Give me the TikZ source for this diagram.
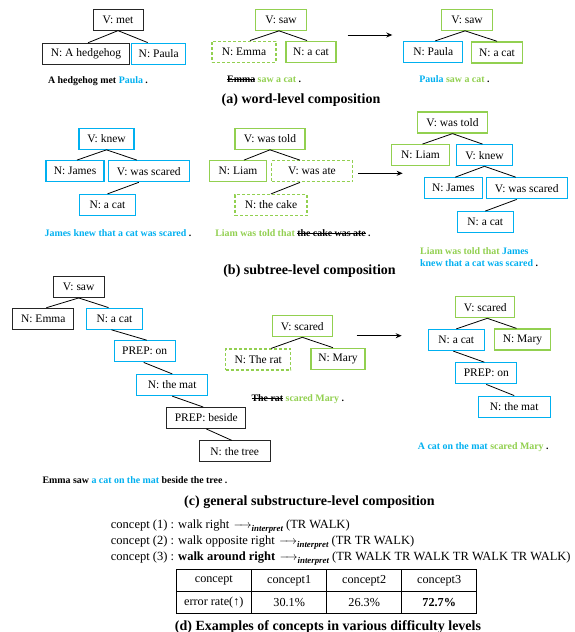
\documentclass[tikz,border=0pt]{standalone}
\usepackage{fontspec}
\setmainfont{Liberation Serif}
\usetikzlibrary{arrows.meta}
\definecolor{cb}{RGB}{0,176,240}
\definecolor{cg}{RGB}{146,208,80}
\newcommand\strk[1]{\sbox0{#1}\rlap{\rule[0.26em]{\wd0}{0.7pt}}\usebox0}
\newcommand\nodefont{\fontsize{11.5}{13}\selectfont}
\newcommand\interp{$\mkern2mu{-}\mkern-5mu{\rightarrow}$\raisebox{-2.8pt}{\fontsize{8.8}{9}\selectfont\bfseries\itshape interpret}}
\begin{document}
\begin{tikzpicture}[x=1pt,y=-1pt,
  bx/.style={draw, minimum height=21pt, inner sep=0pt, font=\nodefont, line width=0.9pt},
  w/.style={minimum width=#1pt},
  bk/.style={bx, draw=black!85},
  bl/.style={bx, draw=cb, line width=1.25pt},
  gr/.style={bx, draw=cg, line width=1.25pt},
  gd/.style={gr, dash pattern=on 3pt off 2pt},
  ed/.style={line width=0.8pt},
  sent/.style={font=\fontsize{9.9}{11}\selectfont\bfseries, inner sep=0pt},
  capt/.style={font=\fontsize{14}{16}\selectfont\bfseries, inner sep=0pt},
  dtext/.style={font=\fontsize{12.5}{14}\selectfont, inner sep=0pt, anchor=west},
  tcell/.style={font=\fontsize{12.2}{14}\selectfont, inner sep=0pt},
  arr/.style={line width=1pt, -{Stealth[length=6pt,width=5pt]}}
]
\fill[white] (0,0) rectangle (575,632);
\useasboundingbox (0,0) rectangle (575,632);

% ---------- (a) ----------
\node[bk,w=50] (a1) at (118,19.7) {V: met};
\node[bk,w=87] (a2) at (86,53.7) {N: A hedgehog};
\node[bl,w=54] (a3) at (158.7,53.7) {N: Paula};
\draw[ed] (a1.south) -- ([xshift=2pt]a2.north);
\draw[ed] (a1.south) -- ([xshift=-11pt]a3.north);
\node[sent] (as1) at (98,80.7) {A hedgehog met \textcolor{cb}{Paula} .};

\node[gr,w=51] (b1) at (281,19.7) {V: saw};
\node[gd,w=64] (b2) at (244,51.7) {N: Emma};
\node[gr,w=50] (b3) at (311,51.7) {N: a cat};
\draw[ed] ([xshift=-2pt]b1.south) -- ([xshift=6pt]b2.north);
\draw[ed] ([xshift=-2pt]b1.south) -- ([xshift=-4pt]b3.north);
\node[sent] (as2) at (264.2,79.3) {\strk{Emma} \textcolor{cg}{saw a cat} .};

\coordinate (aa1) at (347.7,35);
\coordinate (aa2) at (392.3,35);
\draw[arr] (aa1) -- (aa2);

\node[gr,w=51] (c1) at (467,19.7) {V: saw};
\node[bl,w=59] (c2) at (433.3,52) {N: Paula};
\node[gr,w=51] (c3) at (497,52.4) {N: a cat};
\draw[ed] ([xshift=-2pt]c1.south) -- ([xshift=2pt]c2.north);
\draw[ed] ([xshift=-2pt]c1.south) -- (c3.north);
\node[sent] (as3) at (454.5,79.3) {\textcolor{cb}{Paula} \textcolor{cg}{saw a cat} .};

\node[capt] (capa) at (301,100) {(a) word-level composition};

% ---------- (b) ----------
\node[bl,w=55] (d1) at (106.5,138.7) {V: knew};
\node[bl,w=58] (d2) at (75,171.2) {N: James};
\node[bl,w=81] (d3) at (148.8,171.2) {V: was scared};
\node[bl,w=56] (d4) at (107.5,205) {N: a cat};
\draw[ed] (d1.south) -- ([xshift=2pt]d2.north);
\draw[ed] (d1.south) -- ([xshift=-12pt]d3.north);
\draw[ed] ([xshift=-10pt]d3.south) -- (d4.north);
\node[sent] (bs1) at (118,232.7) {\textcolor{cb}{James knew that a cat was scared} .};

\node[gr,w=70] (e1) at (270,138.7) {V: was told};
\node[gr,w=57] (e2) at (238,171.2) {N: Liam};
\node[gd,w=81] (e3) at (312,171.3) {V: was ate};
\node[gd,w=72] (e4) at (271,205) {N: the cake};
\draw[ed] (e1.south) -- ([xshift=6pt]e2.north);
\draw[ed] (e1.south) -- ([xshift=-12pt]e3.north);
\draw[ed] ([xshift=-12pt]e3.south) -- (e4.north);
\node[sent] (bs2) at (293,232.7) {\textcolor{cg}{Liam was told that} \strk{the cake was ate} .};

\coordinate (ba1) at (358.3,173.3);
\coordinate (ba2) at (402.7,173.3);
\draw[arr] (ba1) -- (ba2);

\node[gr,w=70] (f1) at (452.5,122.5) {V: was told};
\node[gr,w=58] (f2) at (420.5,155.2) {N: Liam};
\node[bl,w=56] (f3) at (484.5,155.2) {V: knew};
\node[bl,w=58] (f4) at (453.3,188.3) {N: James};
\node[bl,w=81] (f5) at (526.7,188.3) {V: was scared};
\node[bl,w=56] (f6) at (485.3,222.2) {N: a cat};
\draw[ed] (f1.south) -- ([xshift=2pt]f2.north);
\draw[ed] (f1.south) -- ([xshift=-2pt]f3.north);
\draw[ed] (f3.south) -- ([xshift=2pt]f4.north);
\draw[ed] (f3.south) -- ([xshift=-11pt]f5.north);
\draw[ed] ([xshift=-10pt]f5.south) -- (f6.north);
\node[sent, anchor=west] (bs3) at (420,251) {\textcolor{cg}{Liam was told that} \textcolor{cb}{James}};
\node[sent, anchor=west] (bs4) at (420,263.3) {\textcolor{cb}{knew that a cat was scared} .};

\node[capt] (capb) at (309.5,271) {(b) subtree-level composition};

% ---------- (c) ----------
\node[bk,w=51] (g1) at (78.7,287) {V: saw};
\node[bk,w=61] (g2) at (43.3,318.7) {N: Emma};
\node[bl,w=56] (g3) at (114.5,318.7) {N: a cat};
\node[bl,w=61] (g4) at (144.7,351.3) {PREP: on};
\node[bl,w=71] (g5) at (172.2,385) {N: the mat};
\node[bk,w=79] (g6) at (206.3,418) {PREP: beside};
\node[bk,w=71] (g7) at (234.7,451.3) {N: the tree};
\draw[ed] (g1.south) -- ([xshift=3pt]g2.north);
\draw[ed] (g1.south) -- ([xshift=-6pt]g3.north);
\draw[ed] ([xshift=-3pt]g3.south) -- ([xshift=2pt]g4.north);
\draw[ed] ([xshift=-1pt]g4.south) -- (g5.north);
\draw[ed] (g5.south) -- ([xshift=-3pt]g6.north);
\draw[ed] (g6.south) -- ([xshift=-3pt]g7.north);
\node[sent] (cs1) at (135,480) {Emma saw \textcolor{cb}{a cat on the mat} beside the tree .};

\node[gr,w=60] (h1) at (302.3,326.2) {V: scared};
\node[gd,w=65] (h2) at (258.2,359.5) {N: The rat};
\node[gr,w=54] (h3) at (338,358.8) {N: Mary};
\draw[ed] (h1.south) -- ([xshift=13pt]h2.north);
\draw[ed] (h1.south) -- ([xshift=-5pt]h3.north);
\node[sent] (cs2) at (297.8,399.3) {\strk{The rat} \textcolor{cg}{scared Mary} .};

\coordinate (ca1) at (356.7,335.7);
\coordinate (ca2) at (401.7,335.7);
\draw[arr] (ca1) -- (ca2);

\node[gr,w=59] (i1) at (485.3,307.2) {V: scared};
\node[bl,w=56] (i2) at (456.3,340) {N: a cat};
\node[gr,w=56] (i3) at (522.5,339.5) {N: Mary};
\node[bl,w=61] (i4) at (486.3,373.3) {PREP: on};
\node[bl,w=72] (i5) at (514.2,406.7) {N: the mat};
\draw[ed] ([xshift=2pt]i1.south) -- (i2.north);
\draw[ed] ([xshift=2pt]i1.south) -- ([xshift=-6pt]i3.north);
\draw[ed] ([xshift=-3pt]i2.south) -- ([xshift=-2pt]i4.north);
\draw[ed] (i4.south) -- (i5.north);
\node[sent] (cs3) at (483.3,446.7) {\textcolor{cb}{A cat on the mat} \textcolor{cg}{scared Mary} .};

\node[capt] (capc) at (309.5,502) {(c) general substructure-level composition};

% ---------- (d) ----------
\node[dtext] (d1t) at (110.7,526.7) {concept (1) : walk right \interp{} (TR WALK)};
\node[dtext] (d2t) at (110.7,542.3) {concept (2) : walk opposite right \interp{} (TR TR WALK)};
\node[dtext] (d3t) at (110.7,558.3) {concept (3) : \textbf{walk around right} \interp{} (TR WALK TR WALK TR WALK TR WALK)};

\draw[line width=0.9pt] (176,569.3) rectangle (476.7,613.3);
\draw[line width=0.8pt] (176,591.7) -- (476.7,591.7);
\foreach \xx in {251.7,326.7,401.7} \draw[line width=0.8pt] (\xx,569.3) -- (\xx,613.3);
\node[tcell] (t11) at (213.8,580.5) {concept};
\node[tcell] (t12) at (289.2,580.5) {concept1};
\node[tcell] (t13) at (364.2,580.5) {concept2};
\node[tcell] (t14) at (439.2,580.5) {concept3};
\node[tcell] (t21) at (213.8,602.5) {error rate(↑)};
\node[tcell] (t22) at (289.2,602.5) {30.1\%};
\node[tcell] (t23) at (364.2,602.5) {26.3\%};
\node[tcell] (t24) at (439.2,602.5) {\textbf{72.7\%}};

\node[capt] (capd) at (328,626.7) {(d) Examples of concepts in various difficulty levels};
\end{tikzpicture}
\end{document}
